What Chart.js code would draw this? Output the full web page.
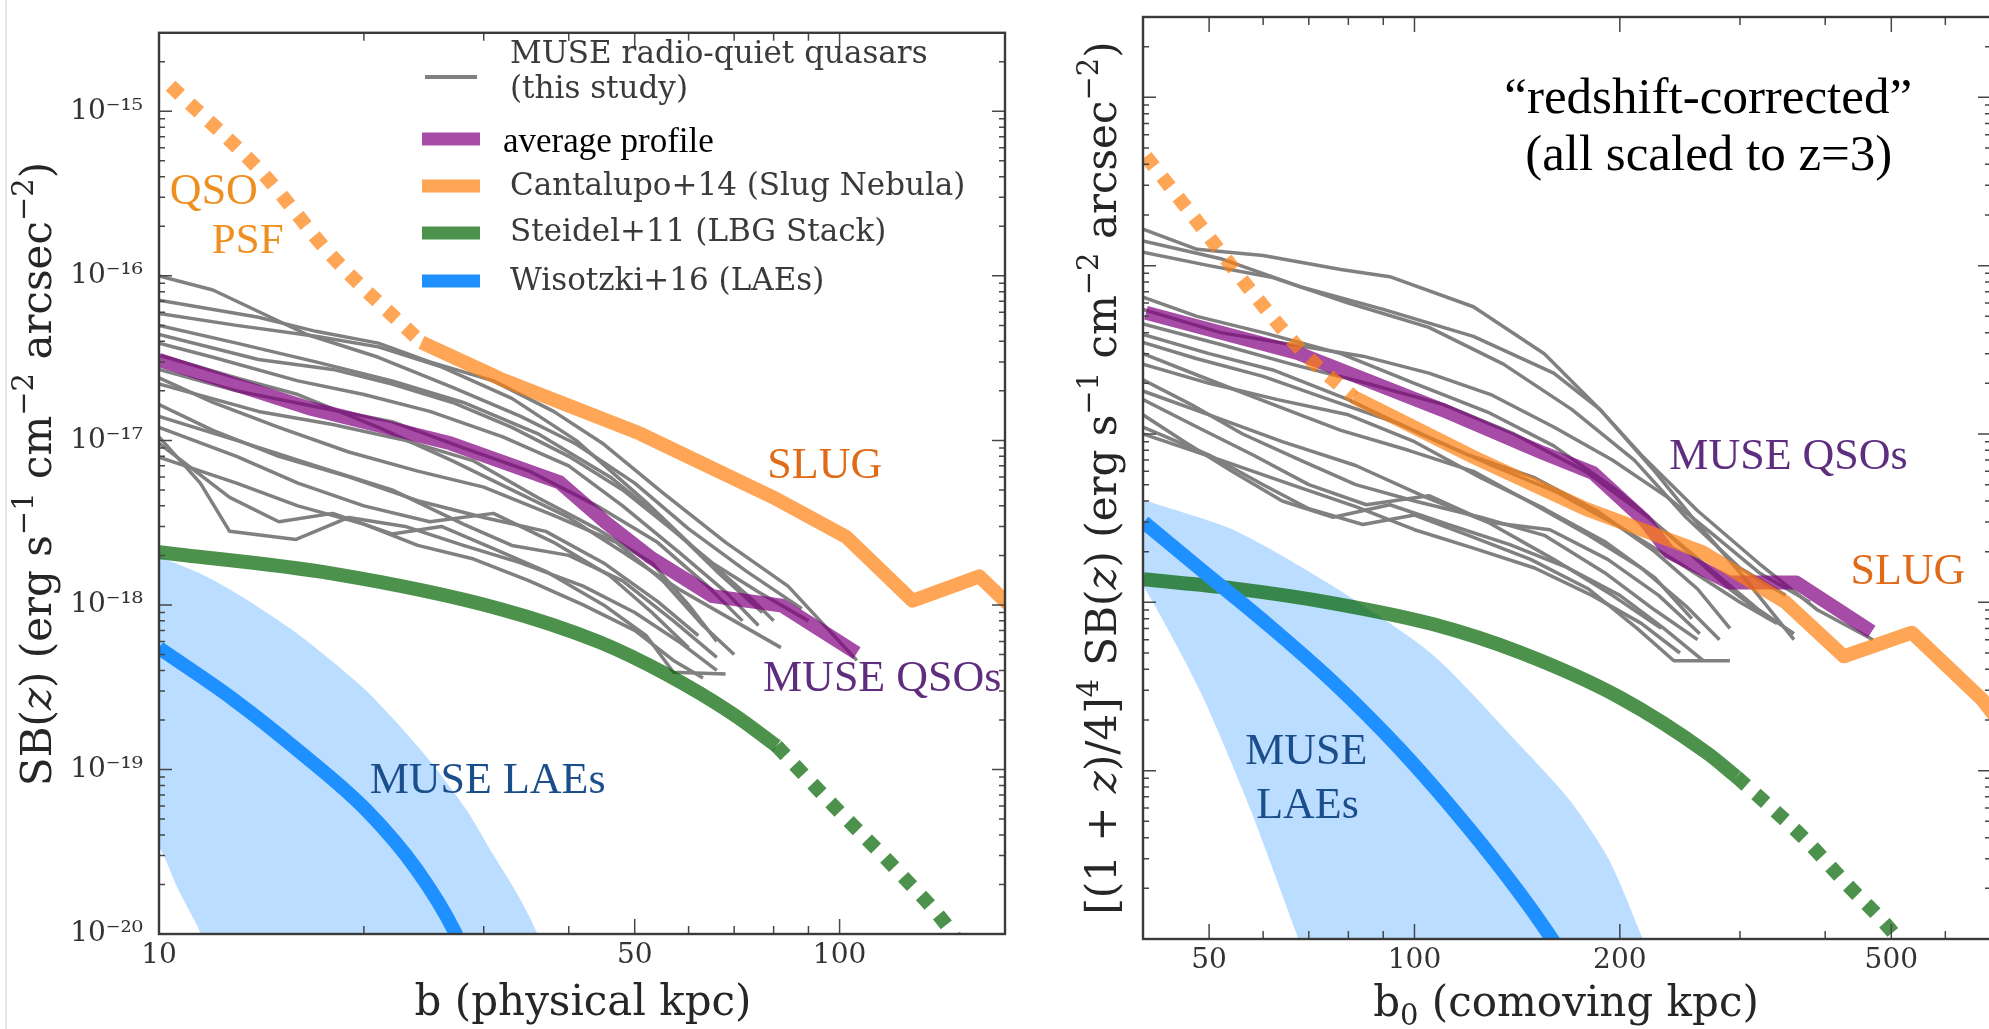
<!DOCTYPE html>
<html>
<head>
<meta charset="utf-8">
<script src="https://cdn.jsdelivr.net/npm/chart.js@4.4.1/dist/chart.umd.min.js"></script>
<style>
  html, body { margin: 0; padding: 0; background: #fff; overflow: hidden; }
  body { width: 1989px; height: 1029px; position: relative; }
  .panel { position: absolute; top: 0; height: 1029px; }
  #physPanel { left: 0; width: 1010px; }
  #comovPanel { left: 1010px; width: 1000px; }
  .edge { position: absolute; left: 5px; top: 0; width: 2px; height: 1029px; background: #e6e6e6; }
</style>
</head>
<body>
<div class="edge"></div>
<div class="panel" id="physPanel"><canvas id="physChart"></canvas></div>
<div class="panel" id="comovPanel"><canvas id="comovChart"></canvas></div>
<script>
/*
 * Lyman-alpha surface-brightness profiles: individual MUSE quasars, their
 * average, the Slug nebula, the LBG stack and the LAE stack.
 * Left panel: b in physical kpc.  Right panel: b0 in comoving kpc with the
 * SB scaled to z = 3.  Every series is [b, SB] pairs in kpc and
 * erg s^-1 cm^-2 arcsec^-2.
 */

// ---------- axes ----------
const sbMin = 1e-20;
const sbMax = 3e-15;
const sbDecades = [1e-20, 1e-19, 1e-18, 1e-17, 1e-16, 1e-15];
const sbSteps = [1, 2, 3, 4, 5, 6, 7, 8, 9];

const physRange = [10, 175];
const physTicks = [10, 20, 30, 40, 50, 60, 70, 80, 90, 100];
const physTickLabels = [10, 50, 100];

const comovRange = [40, 700];
const comovTicks = [40, 50, 60, 70, 80, 90, 100, 200, 300, 400, 500, 600, 700];
const comovTickLabels = [50, 100, 200, 500];

// ---------- physical kpc ----------
const physQuasars = [
  [[10,1.0e-16],[12,8.2e-17],[16.5,4.4e-17],[21,3.2e-17],[27,2.1e-17],[34,1.4e-17],[41,9.5e-18],[50,5.5e-18],[60,2.9e-18],[73,1.6e-18],[88,9.5e-19]],
  [[10,7.1e-17],[14,5.6e-17],[17,4.6e-17],[21,3.9e-17],[25,3.0e-17],[31,2.3e-17],[38,1.5e-17],[45,9.5e-18],[55,4.8e-18],[68,2.4e-18],[84,1.3e-18],[106,4.6e-19]],
  [[10,5.9e-17],[13,5.0e-17],[17,4.3e-17],[21,3.7e-17],[26,2.8e-17],[33,1.8e-17],[41,1.0e-17],[52,4.2e-18],[62,2.1e-18],[74,1.1e-18],[80,8.0e-19]],
  [[10,5.0e-17],[13,3.9e-17],[17,3.0e-17],[22,2.3e-17],[28,1.7e-17],[36,1.1e-17],[46,6.0e-18],[56,3.1e-18],[66,1.6e-18],[77,9.0e-19]],
  [[10,4.4e-17],[14,3.1e-17],[18,2.7e-17],[22,2.2e-17],[27,1.7e-17],[33,1.2e-17],[40,8.0e-18],[48,5.0e-18],[56,3.0e-18],[65,1.8e-18],[76,1.2e-18],[90,8.0e-19]],
  [[10,3.9e-17],[12,3.2e-17],[16,2.3e-17],[20,1.9e-17],[25,1.5e-17],[32,1.05e-17],[40,7.0e-18],[48,4.0e-18],[58,2.1e-18],[68,1.2e-18],[76,7.5e-19]],
  [[10,2.7e-17],[13,2.0e-17],[17,1.6e-17],[22,1.3e-17],[28,9.0e-18],[35,6.5e-18],[44,4.0e-18],[54,2.4e-18],[64,1.3e-18],[72,8.0e-19]],
  [[10,2.4e-17],[12,1.7e-17],[15,1.2e-17],[19,8.5e-18],[24,6.5e-18],[30,5.2e-18],[38,3.5e-18],[47,2.4e-18],[55,1.4e-18],[63,7.5e-19],[70,5.0e-19]],
  [[10,2.2e-17],[14,1.5e-17],[18,1.25e-17],[23,1.0e-17],[29,7.5e-18],[36,4.5e-18],[44,2.9e-18],[53,1.8e-18],[60,1.0e-18],[66,6.0e-19]],
  [[10,1.65e-17],[12,1.15e-17],[15,8.0e-18],[19,6.0e-18],[24,4.3e-18],[30,3.4e-18],[37,2.8e-18],[45,1.8e-18],[54,1.05e-18],[62,6.5e-19]],
  [[10,1.4e-17],[13,1.0e-17],[17,7.0e-18],[22,5.0e-18],[28,3.1e-18],[33,2.3e-18],[40,2.0e-18],[48,1.4e-18],[57,8.0e-19],[66,4.8e-19]],
  [[10,1.2e-17],[13,8.0e-18],[16,5.5e-18],[20,4.0e-18],[25,3.2e-18],[31,3.6e-18],[38,2.4e-18],[46,1.5e-18],[53,9.0e-19],[60,5.5e-19]],
  [[10,1.05e-17],[11.5,5.5e-18],[12.7,2.8e-18],[15.9,2.5e-18],[19,3.4e-18],[23,3.0e-18],[28,2.3e-18],[34,1.8e-18],[42,1.3e-18],[50,9.0e-19],[58,6.0e-19],[66,4.0e-19]],
  [[10,9.6e-18],[12.7,4.5e-18],[15,3.2e-18],[18,3.6e-18],[22,2.7e-18],[26,3.0e-18],[31,2.2e-18],[37,1.6e-18],[45,1.0e-18],[52,6.5e-19],[57,3.9e-19],[68,3.8e-19]],
  [[10,7.9e-18],[13,5.5e-18],[16,4.0e-18],[20,3.1e-18],[24,2.3e-18],[29,1.9e-18],[35,1.4e-18],[42,1.0e-18],[50,7.0e-19],[57,4.6e-19],[63,3.6e-19]],
  [[10,3.3e-17],[13,2.4e-17],[16,1.9e-17],[21,1.2e-17],[27,7.5e-18],[33,5.0e-18],[40,3.4e-18],[48,2.1e-18],[58,1.25e-18],[70,8.0e-19],[82,5.5e-19]],
];
const physAverage = [[10,3.08e-17],[16.6,1.57e-17],[26.8,9.6e-18],[38.8,5.55e-18],[45.2,3.2e-18],[52.6,1.96e-18],[65.1,1.13e-18],[82.3,9.9e-19],[106,5.1e-19]];
const physSlugPsf = [[10.4,1.43e-15],[14.2,4.2e-16],[18.0,1.3e-16],[24.3,3.94e-17]];
const physSlug = [[24.3,3.94e-17],[31.7,2.37e-17],[50.9,1.1e-17],[80.8,4.4e-18],[102.4,2.58e-18],[128,1.06e-18],[160.5,1.49e-18],[173.6,1.09e-18],[180,9.5e-19]];
const physLbg = [[10,2.09e-18],[18,1.55e-18],[31.7,9.46e-19],[44.4,5.94e-19],[55.7,3.78e-19],[69.6,2.18e-19],[80.8,1.39e-19]];
const physLbgExtrap = [[80.8,1.39e-19],[97.7,6.1e-20],[122.6,2.34e-20],[146.8,1.0e-20],[150,8.6e-21]];
const physLae = [[10,5.47e-19],[12.84,2.68e-19],[16.1,1.28e-19],[20.2,5.62e-20],[23.9,2.47e-20],[27.2,1.03e-20],[27.8,8.3e-21]];
const physLaeUpper = [[9,2.3e-18],[10,1.96e-18],[11.49,1.55e-18],[12.84,1.21e-18],[14.4,8.96e-19],[16.1,6.53e-19],[18.0,4.52e-19],[20.2,2.99e-19],[22.6,1.83e-19],[25.3,1.06e-19],[28.4,5.55e-20],[30.9,3.08e-20],[33.8,1.68e-20],[36.0,1.0e-20],[36.8,7.5e-21]];
const physLaeLower = [[9,5.5e-20],[10,3.39e-20],[10.63,1.93e-20],[11.49,1.03e-20],[11.68,8.0e-21]];

// ---------- comoving kpc, scaled to z = 3 ----------
const comovQuasars = [
  [[40,1.65e-16],[48,1.25e-16],[60,1.15e-16],[78,9.5e-17],[92,8.6e-17],[122,5.7e-17],[155,3.0e-17],[187,1.4e-17],[225,6.0e-18],[257,3.1e-18],[300,1.5e-18],[360,6.0e-19]],
  [[40,1.4e-16],[52,1.1e-16],[68,7.5e-17],[90,5.5e-17],[122,3.8e-17],[160,2.3e-17],[187,1.4e-17],[215,7.5e-18],[260,3.5e-18],[320,1.7e-18],[390,9.0e-19],[470,6.0e-19]],
  [[40,1.2e-16],[50,1.0e-16],[62,8.5e-17],[80,6.0e-17],[105,4.3e-17],[135,2.6e-17],[170,1.4e-17],[210,7.0e-18],[250,3.2e-18],[300,1.6e-18],[350,1.1e-18]],
  [[40,6.5e-17],[48,5.0e-17],[60,4.0e-17],[78,3.0e-17],[100,2.0e-17],[128,1.35e-17],[160,8.5e-18],[200,4.5e-18],[245,2.2e-18],[290,1.2e-18],[330,8.0e-19]],
  [[40,4.5e-17],[52,3.4e-17],[66,2.6e-17],[85,2.0e-17],[110,1.5e-17],[140,1.0e-17],[178,6.0e-18],[220,3.2e-18],[270,1.6e-18],[320,9.0e-19],[360,6.5e-19]],
  [[40,3.5e-17],[48,2.8e-17],[60,2.2e-17],[75,1.6e-17],[95,1.15e-17],[120,7.5e-18],[150,5.5e-18],[185,3.5e-18],[225,2.0e-18],[260,1.2e-18],[290,7.0e-19]],
  [[40,3.0e-17],[50,2.1e-17],[62,1.5e-17],[78,1.05e-17],[98,8.0e-18],[122,6.0e-18],[150,3.8e-18],[180,2.5e-18],[215,1.6e-18],[250,9.5e-19],[280,6.0e-19]],
  [[40,2.6e-17],[50,2.0e-17],[63,1.6e-17],[80,1.3e-17],[100,9.0e-18],[125,5.5e-18],[155,3.6e-18],[190,2.3e-18],[225,1.4e-18],[255,8.0e-19]],
  [[40,2.1e-17],[47,1.5e-17],[56,1.0e-17],[68,7.0e-18],[82,5.0e-18],[100,4.0e-18],[125,3.2e-18],[155,2.5e-18],[190,1.5e-18],[225,9.0e-19],[260,6.0e-19]],
  [[40,1.6e-17],[48,1.1e-17],[58,7.5e-18],[70,5.0e-18],[85,3.8e-18],[105,4.3e-18],[128,3.0e-18],[160,1.8e-18],[195,1.1e-18],[230,7.0e-19]],
  [[40,1.3e-17],[46,9.0e-18],[54,6.0e-18],[64,4.0e-18],[76,3.2e-18],[92,3.8e-18],[112,2.9e-18],[138,2.2e-18],[168,1.6e-18],[200,1.1e-18],[232,7.0e-19],[265,4.5e-19]],
  [[40,1.1e-17],[50,7.5e-18],[60,5.0e-18],[70,3.6e-18],[84,2.9e-18],[100,3.3e-18],[120,2.5e-18],[148,1.8e-18],[180,1.2e-18],[212,7.0e-19],[240,4.5e-19],[290,4.5e-19]],
  [[40,1.0e-17],[52,7.0e-18],[66,5.0e-18],[82,3.7e-18],[100,2.7e-18],[122,2.1e-18],[150,1.6e-18],[182,1.1e-18],[215,7.5e-19],[245,5.0e-19]],
  [[40,3.9e-17],[50,3.0e-17],[62,2.4e-17],[80,1.6e-17],[102,1.0e-17],[130,6.5e-18],[162,4.5e-18],[200,2.8e-18],[245,1.7e-18],[300,1.0e-18],[340,7.5e-19]],
  [[40,1.8e-17],[50,1.3e-17],[64,9.0e-18],[82,6.5e-18],[104,4.2e-18],[128,3.0e-18],[158,2.7e-18],[192,1.8e-18],[228,1.1e-18],[262,6.5e-19]],
  [[40,5.5e-17],[52,4.0e-17],[66,3.4e-17],[84,2.9e-17],[105,2.3e-17],[130,1.7e-17],[160,1.1e-17],[195,7.0e-18],[235,4.2e-18],[275,2.5e-18],[320,1.5e-18],[380,1.0e-18]],
];
const comovAverage = [[40.4,5.25e-17],[67.4,3.03e-17],[109.9,1.39e-17],[154.5,7.7e-18],[182.8,5.86e-18],[217.3,3.08e-18],[236,1.99e-18],[289.4,1.31e-18],[362.9,1.31e-18],[468,6.7e-19]];
const comovSlugPsf = [[40.4,4.46e-16],[46.9,2.07e-16],[57.9,6.9e-17],[68.8,3.03e-17],[81.4,1.66e-17]];
const comovSlug = [[81.4,1.66e-17],[122,7.3e-18],[178.6,3.58e-18],[264,1.99e-18],[350,1.0e-18],[426,4.78e-19],[536,6.6e-19],[679,2.65e-19],[710,2.1e-19]];
const comovLbg = [[40.1,1.37e-18],[54.3,1.21e-18],[76.1,9.87e-19],[106.6,7.4e-19],[142.9,5.03e-19],[200,2.72e-19],[268,1.28e-19],[296.5,9.2e-20]];
const comovLbgExtrap = [[296.5,9.2e-20],[370.5,4.05e-20],[428.7,2.15e-20],[512.7,9.9e-21],[532,7.9e-21]];
const comovLae = [[40.1,2.99e-18],[48.6,1.57e-18],[60.9,7.4e-19],[76.1,3.34e-19],[95.4,1.33e-19],[119.6,4.64e-20],[142.9,1.85e-20],[159.3,9.9e-21],[162.5,8.7e-21]];
const comovLaeUpper = [[36,4.8e-18],[40.1,4.05e-18],[54.3,2.69e-18],[76.1,1.24e-18],[106.6,4.84e-19],[142.9,1.41e-19],[169.2,6.6e-20],[192.9,2.95e-20],[215.5,1.03e-20],[221.5,7.4e-21]];
const comovLaeLower = [[36,2.2e-18],[40.1,1.24e-18],[48.6,2.91e-19],[57.5,5.86e-20],[67.4,1.03e-20],[69.3,7.4e-21]];

// ---------- styling ----------
const COLORS = {
  quasar: 'rgb(128,128,128)',
  average: 'rgba(128,0,128,0.7)',
  slug: 'rgba(255,127,14,0.7)',
  lbg: 'rgba(0,100,0,0.7)',
  lae: 'rgb(30,144,255)',
  laeBand: 'rgba(30,144,255,0.3)',
};
const THICK = 14;
const DOTS = [13, 13];
const SMOOTH = { cubicInterpolationMode: 'monotone' };

const SUP = { '-': '\u207B', '0': '\u2070', '1': '\u00B9', '2': '\u00B2', '3': '\u00B3', '4': '\u2074',
              '5': '\u2075', '6': '\u2076', '7': '\u2077', '8': '\u2078', '9': '\u2079' };
const toSup = s => String(s).split('').map(c => SUP[c] || c).join('');
const isDecade = v => Math.abs(Math.log10(v) - Math.round(Math.log10(v))) < 1e-6;

const sbTicks = [];
sbDecades.forEach(d => sbSteps.forEach(m => { if (d * m <= sbMax) sbTicks.push(d * m); }));

const toPoints = arr => arr.map(([x, y]) => ({ x, y }));

function lineSet(arr, color, width, extra) {
  return Object.assign({
    data: toPoints(arr),
    borderColor: color,
    backgroundColor: color,
    borderWidth: width,
    pointRadius: 0,
    pointHoverRadius: 0,
    tension: 0,
    fill: false,
    clip: 0,
    borderJoinStyle: 'round',
    borderCapStyle: 'butt',
  }, extra || {});
}

// Closed outline of the LAE scatter band: upper edge out, lower edge back.
// Both edges start left of the axis so the closing segment stays clipped.
function bandSet(upper, lower) {
  return lineSet(upper.concat(lower.slice().reverse()), 'rgba(0,0,0,0)', 0, {
    backgroundColor: COLORS.laeBand, fill: 'shape', tension: 0.25, order: 9,
  });
}

// Text with super/subscript runs, e.g. axis titles with units.
function drawRich(ctx, parts, x, y, o) {
  const fontOf = p => `${p.it ? 'italic ' : ''}${p.sup || p.sub ? Math.round(o.size * 0.68) : o.size}px ${o.family}`;
  let total = 0;
  parts.forEach(p => { ctx.font = fontOf(p); total += ctx.measureText(p.t).width; });
  ctx.save();
  ctx.translate(x, y);
  if (o.rotate) ctx.rotate(o.rotate);
  ctx.fillStyle = o.color;
  ctx.textAlign = 'left';
  ctx.textBaseline = 'alphabetic';
  let cx = -total / 2;
  parts.forEach(p => {
    ctx.font = fontOf(p);
    const dy = p.sup ? -o.size * 0.42 : p.sub ? o.size * 0.22 : 0;
    ctx.fillText(p.t, cx, dy);
    cx += ctx.measureText(p.t).width;
  });
  ctx.restore();
}

function drawLegend(ctx, items) {
  items.forEach(it => {
    ctx.strokeStyle = it.color;
    ctx.lineWidth = it.width;
    ctx.lineCap = 'butt';
    ctx.beginPath();
    ctx.moveTo(it.x0, it.y);
    ctx.lineTo(it.x1, it.y);
    ctx.stroke();
    ctx.font = it.font;
    ctx.fillStyle = it.textColor;
    ctx.textAlign = 'left';
    ctx.textBaseline = 'middle';
    it.text.forEach((line, i) => ctx.fillText(line, it.tx, it.ty + i * 35));
  });
}

// Frame, inward ticks, annotations, legend and axis titles for one panel.
function panelDecor(cfg) {
  return {
    id: 'panelDecor',
    afterDatasetsDraw(chart) {
      const { ctx, chartArea: a } = chart;
      const xs = chart.scales.x, ys = chart.scales.y;
      ctx.save();
      ctx.strokeStyle = '#474747';
      ctx.lineWidth = 1.5;
      ctx.beginPath();
      xs.ticks.forEach(t => {
        const px = xs.getPixelForValue(t.value);
        const len = cfg.xMajor.includes(t.value) ? 15 : 8;
        ctx.moveTo(px, a.bottom); ctx.lineTo(px, a.bottom - len);
        ctx.moveTo(px, a.top); ctx.lineTo(px, a.top + len);
      });
      ys.ticks.forEach(t => {
        const py = ys.getPixelForValue(t.value);
        const len = isDecade(t.value) ? 13 : 6;
        ctx.moveTo(a.left, py); ctx.lineTo(a.left + len, py);
        ctx.moveTo(a.right, py); ctx.lineTo(a.right - len, py);
      });
      ctx.stroke();
      ctx.lineWidth = 2.4;
      ctx.strokeStyle = '#3a3a3a';
      ctx.strokeRect(a.left, a.top, a.right - a.left, a.bottom - a.top);

      cfg.notes.forEach(n => {
        ctx.font = `${n.size}px "Liberation Serif"`;
        ctx.fillStyle = n.color;
        ctx.textAlign = 'center';
        ctx.textBaseline = 'middle';
        ctx.fillText(n.text, xs.getPixelForValue(n.x), ys.getPixelForValue(n.y));
      });

      if (cfg.legend) drawLegend(ctx, cfg.legend);

      const titleFont = { size: 42, family: '"DejaVu Serif"', color: '#262626' };
      drawRich(ctx, cfg.yTitle.parts, cfg.yTitle.x, cfg.yTitle.y, Object.assign({ rotate: -Math.PI / 2 }, titleFont));
      drawRich(ctx, cfg.xTitle.parts, cfg.xTitle.x, cfg.xTitle.y, titleFont);
      ctx.restore();
    },
  };
}

function buildPanel(canvasId, p) {
  const datasets = [
    bandSet(p.laeUpper, p.laeLower),
    ...p.quasars.map(q => lineSet(q, COLORS.quasar, 3.5, { order: 6 })),
    lineSet(p.lbg, COLORS.lbg, THICK, Object.assign({ order: 5 }, SMOOTH)),
    lineSet(p.lbgExtrap, COLORS.lbg, THICK, Object.assign({ order: 5, borderDash: DOTS, borderJoinStyle: 'miter' }, SMOOTH)),
    lineSet(p.lae, COLORS.lae, THICK, Object.assign({ order: 4 }, SMOOTH)),
    lineSet(p.average, COLORS.average, THICK, { order: 3 }),
    lineSet(p.slugPsf, COLORS.slug, THICK, Object.assign({ order: 2, borderDash: DOTS, borderJoinStyle: 'miter' }, SMOOTH)),
    lineSet(p.slug, COLORS.slug, THICK, { order: 2 }),
  ];

  const tickFont = { family: 'DejaVu Serif', size: 28 };
  return new Chart(document.getElementById(canvasId), {
    type: 'line',
    data: { datasets },
    options: {
      responsive: true,
      maintainAspectRatio: false,
      devicePixelRatio: 1,
      animation: false,
      events: [],
      layout: { padding: p.padding },
      plugins: { legend: { display: false }, tooltip: { enabled: false } },
      scales: {
        x: {
          type: 'logarithmic',
          bounds: 'data',
          min: p.xRange[0],
          max: p.xRange[1],
          afterBuildTicks: s => { s.ticks = p.xTicks.map(v => ({ value: v })); },
          afterFit: s => { s.height = p.xAxisHeight; },
          grid: { display: false, drawTicks: false },
          border: { display: false },
          ticks: {
            autoSkip: false, maxRotation: 0, minRotation: 0, padding: 5,
            color: '#333', font: tickFont,
            callback: v => (p.xLabels.includes(v) ? String(v) : ''),
          },
        },
        y: {
          type: 'logarithmic',
          bounds: 'data',
          min: sbMin,
          max: sbMax,
          afterBuildTicks: s => { s.ticks = sbTicks.map(v => ({ value: v })); },
          afterFit: s => { s.width = p.yAxisWidth; },
          grid: { display: false, drawTicks: false },
          border: { display: false },
          ticks: {
            display: p.yLabels, autoSkip: false, padding: 16,
            color: '#333', font: tickFont,
            callback: v => (isDecade(v) ? '10' + toSup(Math.round(Math.log10(v))) : ''),
          },
        },
      },
    },
    plugins: [panelDecor(p.decor)],
  });
}

const sbUnitParts = [
  { t: ' (erg s' }, { t: '\u22121', sup: true }, { t: ' cm' }, { t: '\u22122', sup: true },
  { t: ' arcsec' }, { t: '\u22122', sup: true }, { t: ')' },
];

buildPanel('physChart', {
  quasars: physQuasars, average: physAverage, slugPsf: physSlugPsf, slug: physSlug,
  lbg: physLbg, lbgExtrap: physLbgExtrap, lae: physLae, laeUpper: physLaeUpper, laeLower: physLaeLower,
  xRange: physRange, xTicks: physTicks, xLabels: physTickLabels,
  yLabels: true, yAxisWidth: 159, xAxisHeight: 95,
  padding: { top: 14, right: 5, left: 0, bottom: 0 },
  decor: {
    xMajor: physTickLabels,
    notes: [
      { text: 'QSO', x: 12.04, y: 3.21e-16, size: 44, color: '#ef8f22' },
      { text: 'PSF', x: 13.5, y: 1.61e-16, size: 43, color: '#ef8f22' },
      { text: 'SLUG', x: 95.1, y: 6.9e-18, size: 44, color: '#e06a17' },
      { text: 'MUSE QSOs', x: 115.5, y: 3.53e-19, size: 44, color: '#5e2d7e' },
      { text: 'MUSE LAEs', x: 30.4, y: 8.4e-20, size: 44, color: '#1b4f8c' },
    ],
    legend: [
      { color: COLORS.quasar, width: 4, x0: 425, x1: 477, y: 77, tx: 510, ty: 55,
        text: ['MUSE radio-quiet quasars', '(this study)'], font: '31px "DejaVu Serif"', textColor: '#3a3a3a' },
      { color: COLORS.average, width: 13, x0: 422, x1: 480, y: 139, tx: 503, ty: 143,
        text: ['average profile'], font: '35px "Liberation Serif"', textColor: '#000' },
      { color: COLORS.slug, width: 13, x0: 422, x1: 480, y: 186, tx: 510, ty: 187,
        text: ['Cantalupo+14 (Slug Nebula)'], font: '31px "DejaVu Serif"', textColor: '#3a3a3a' },
      { color: COLORS.lbg, width: 13, x0: 422, x1: 480, y: 233, tx: 510, ty: 233,
        text: ['Steidel+11 (LBG Stack)'], font: '31px "DejaVu Serif"', textColor: '#3a3a3a' },
      { color: COLORS.lae, width: 13, x0: 422, x1: 480, y: 281, tx: 510, ty: 282,
        text: ['Wisotzki+16 (LAEs)'], font: '31px "DejaVu Serif"', textColor: '#3a3a3a' },
    ],
    yTitle: { x: 51, y: 474, parts: [{ t: 'SB(' }, { t: 'z', it: true }, { t: ')' }, ...sbUnitParts] },
    xTitle: { x: 583, y: 1015, parts: [{ t: 'b (physical kpc)' }] },
  },
});

buildPanel('comovChart', {
  quasars: comovQuasars, average: comovAverage, slugPsf: comovSlugPsf, slug: comovSlug,
  lbg: comovLbg, lbgExtrap: comovLbgExtrap, lae: comovLae, laeUpper: comovLaeUpper, laeLower: comovLaeLower,
  xRange: comovRange, xTicks: comovTicks, xLabels: comovTickLabels,
  yLabels: false, yAxisWidth: 133, xAxisHeight: 90,
  padding: { top: 17, right: 19, left: 0, bottom: 0 },
  decor: {
    xMajor: comovTickLabels,
    notes: [
      { text: '\u201Credshift-corrected\u201D', x: 269.5, y: 9.7e-16, size: 51, color: '#000' },
      { text: '(all scaled to z=3)', x: 270, y: 4.45e-16, size: 51, color: '#000' },
      { text: 'MUSE QSOs', x: 353.4, y: 7.3e-18, size: 44, color: '#5e2d7e' },
      { text: 'SLUG', x: 528.8, y: 1.51e-18, size: 44, color: '#e06a17' },
      { text: 'MUSE', x: 69.4, y: 1.28e-19, size: 44, color: '#1b4f8c' },
      { text: 'LAEs', x: 69.7, y: 6.1e-20, size: 44, color: '#1b4f8c' },
    ],
    legend: null,
    yTitle: { x: 106, y: 478, parts: [
      { t: '[(1 + ' }, { t: 'z', it: true }, { t: ')/4]' }, { t: '4', sup: true },
      { t: ' SB(' }, { t: 'z', it: true }, { t: ')' }, ...sbUnitParts] },
    xTitle: { x: 556, y: 1016, parts: [{ t: 'b' }, { t: '0', sub: true }, { t: ' (comoving kpc)' }] },
  },
});
</script>
</body>
</html>
